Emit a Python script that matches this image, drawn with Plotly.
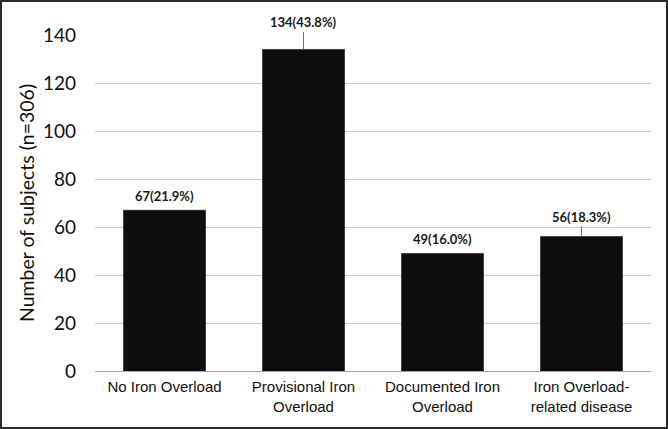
import plotly.graph_objects as go

categories = ["No Iron Overload", "Provisional Iron<br>Overload", "Documented Iron<br>Overload", "Iron Overload-<br>related disease"]
counts = [67, 134, 49, 56]
percents = [21.9, 43.8, 16.0, 18.3]
y_ticks = [0, 20, 40, 60, 80, 100, 120, 140]

W, H = 668, 429
ML, MR, MT, MB = 95, 17, 35, 58
PW, PH = W - ML - MR, H - MT - MB

fig = go.Figure()
fig.add_trace(go.Bar(
    x=categories, y=counts,
    marker=dict(color="#0d0d0d", line=dict(color="#000000", width=0.5)),
    width=0.59,
    cliponaxis=False,
    hoverinfo="skip",
))

# data labels (with leader lines for two bars)
arrow_offsets = [None, -27, None, -20]
for c, v, p, off in zip(categories, counts, percents, arrow_offsets):
    txt = f"<b>{v}({p:.1f}%)</b>"
    if off is None:
        fig.add_annotation(x=c, y=v, text=txt, showarrow=False, yshift=14,
                           font=dict(family="Lato", size=13, color="#1a1a1a"))
    else:
        fig.add_annotation(x=c, y=v, text=txt, showarrow=True, arrowhead=0,
                           arrowwidth=1, arrowcolor="#6f6f6f", ax=0, ay=off,
                           standoff=0,
                           font=dict(family="Lato", size=13, color="#1a1a1a"))

# outer frame
fig.add_shape(type="rect", xref="paper", yref="paper",
              x0=(1 - ML) / PW, x1=(W - 1 - ML) / PW,
              y0=-(MB - 1) / PH, y1=1 + (MT - 1) / PH,
              line=dict(color="#2b2b2b", width=2), layer="above")

fig.update_layout(
    width=W, height=H,
    margin=dict(l=ML, r=MR, t=MT, b=MB, autoexpand=False),
    paper_bgcolor="white", plot_bgcolor="white",
    showlegend=False,
    bargap=0.41,
    xaxis=dict(
        tickfont=dict(family="Liberation Sans", size=15, color="#111111"),
        showline=False, showgrid=False, ticks="",
        ticklabelstandoff=5,
        automargin=False,
    ),
    yaxis=dict(
        range=[0, 140], tickvals=y_ticks,
        tickfont=dict(family="Lato", size=19, color="#111111"),
        showgrid=True, gridcolor="#c8c8c8", gridwidth=1,
        zeroline=True, zerolinecolor="#a6a6a6", zerolinewidth=1,
        ticks="", ticklabelstandoff=18,
        automargin=False,
        title=dict(text="Number of subjects (n=306)",
                   font=dict(family="Lato", size=19.5, color="#111111"),
                   standoff=3),
    ),
)

fig.write_html("out.html", config={"displayModeBar": False},
               post_script="document.body.style.margin='0';document.body.style.padding='0';")
